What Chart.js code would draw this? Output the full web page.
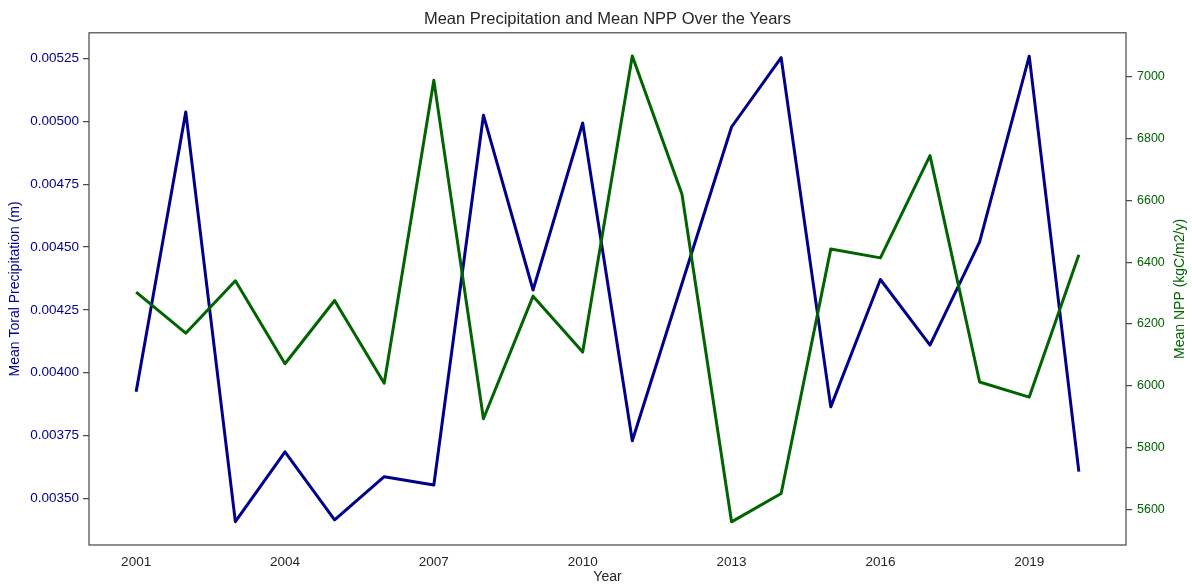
<!DOCTYPE html>
<html>
<head>
<meta charset="utf-8">
<title>Mean Precipitation and Mean NPP Over the Years</title>
<script src="https://cdn.jsdelivr.net/npm/chart.js@4.4.1/dist/chart.umd.min.js"></script>
<style>
  html, body { margin: 0; padding: 0; background: #ffffff; }
  #wrap { width: 1192px; height: 586px; }
</style>
</head>
<body>
<div id="wrap"><canvas id="chart" width="1192" height="586"></canvas></div>
<script>
// Yearly means
const years = [2001, 2002, 2003, 2004, 2005, 2006, 2007, 2008, 2009, 2010,
               2011, 2012, 2013, 2014, 2015, 2016, 2017, 2018, 2019, 2020];

// Mean total precipitation (m)
const precipitation = [0.003924, 0.005038, 0.003407, 0.003685, 0.003414, 0.003586, 0.003553,
                       0.005025, 0.004329, 0.004994, 0.003729, 0.004354, 0.004978, 0.005254,
                       0.003864, 0.004371, 0.004110, 0.004521, 0.005260, 0.003606];

// Mean NPP (kgC/m2/y)
const npp = [6303, 6170, 6340, 6071, 6276, 6008, 6989, 5893, 6290, 6109,
             7068, 6621, 5559, 5651, 6443, 6414, 6745, 6012, 5963, 6424];

// Tick labels
const yearTicks = [2001, 2004, 2007, 2010, 2013, 2016, 2019];
const precipTicks = [0.00350, 0.00375, 0.00400, 0.00425, 0.00450, 0.00475, 0.00500, 0.00525];
const nppTicks = [5600, 5800, 6000, 6200, 6400, 6600, 6800, 7000];

const FONT = '"Liberation Sans", Arial, Helvetica, sans-serif';
const PRECIP_COLOR = '#00008b';
const NPP_COLOR = '#006400';
const FRAME_COLOR = '#4d4d4d';
const TEXT_COLOR = '#262626';

// Frame around the plot area plus the right-hand axis title (read bottom to top)
const frameAndRightTitle = {
  id: 'frameAndRightTitle',
  afterDatasetsDraw(chart) {
    const { ctx, chartArea } = chart;
    ctx.save();
    ctx.strokeStyle = FRAME_COLOR;
    ctx.lineWidth = 1.25;
    ctx.strokeRect(chartArea.left, chartArea.top,
                   chartArea.right - chartArea.left, chartArea.bottom - chartArea.top);
    ctx.restore();
  },
  afterDraw(chart) {
    const { ctx, chartArea } = chart;
    const scale = chart.scales.y1;
    ctx.save();
    ctx.translate(scale.right - 12, (chartArea.top + chartArea.bottom) / 2);
    ctx.rotate(-Math.PI / 2);
    ctx.font = '14px ' + FONT;
    ctx.fillStyle = NPP_COLOR;
    ctx.textAlign = 'center';
    ctx.textBaseline = 'middle';
    ctx.fillText('Mean NPP (kgC/m2/y)', 0, 0);
    ctx.restore();
  }
};

new Chart(document.getElementById('chart'), {
  type: 'line',
  data: {
    datasets: [
      {
        label: 'Mean Toral Precipitation (m)',
        data: years.map((yr, i) => ({ x: yr, y: precipitation[i] })),
        borderColor: PRECIP_COLOR,
        borderWidth: 3,
        pointRadius: 0,
        tension: 0,
        borderJoinStyle: 'round',
        yAxisID: 'y',
        order: 1
      },
      {
        label: 'Mean NPP (kgC/m2/y)',
        data: years.map((yr, i) => ({ x: yr, y: npp[i] })),
        borderColor: NPP_COLOR,
        borderWidth: 3,
        pointRadius: 0,
        tension: 0,
        borderJoinStyle: 'round',
        yAxisID: 'y1',
        order: 0
      }
    ]
  },
  options: {
    responsive: false,
    animation: false,
    devicePixelRatio: 1,
    layout: { padding: 0 },
    plugins: {
      legend: { display: false },
      tooltip: { enabled: false },
      title: {
        display: true,
        fullSize: false,
        text: 'Mean Precipitation and Mean NPP Over the Years',
        color: TEXT_COLOR,
        font: { family: FONT, size: 16.5, weight: 'normal' },
        padding: { top: 10, bottom: 3 }
      }
    },
    scales: {
      x: {
        type: 'linear',
        min: 2000.05,
        max: 2020.95,
        afterBuildTicks: (s) => { s.ticks = yearTicks.map(v => ({ value: v })); },
        afterFit: (s) => { s.height = 41; },
        grid: { display: false, drawTicks: false },
        border: { display: false },
        ticks: {
          color: TEXT_COLOR,
          font: { family: FONT, size: 13.5 },
          padding: 9,
          maxRotation: 0,
          callback: (v) => String(v)
        },
        title: {
          display: true,
          text: 'Year',
          color: TEXT_COLOR,
          font: { family: FONT, size: 14 },
          padding: 0
        }
      },
      y: {
        type: 'linear',
        position: 'left',
        min: 0.003314,
        max: 0.005353,
        afterBuildTicks: (s) => { s.ticks = precipTicks.map(v => ({ value: v })); },
        afterFit: (s) => { s.width = 89; },
        grid: { drawOnChartArea: false, drawTicks: true, tickLength: 6, color: FRAME_COLOR, lineWidth: 1.25 },
        border: { display: false },
        ticks: {
          color: PRECIP_COLOR,
          font: { family: FONT, size: 13.5 },
          padding: 4,
          callback: (v) => v.toFixed(5)
        },
        title: {
          display: true,
          text: 'Mean Toral Precipitation (m)',
          color: PRECIP_COLOR,
          font: { family: FONT, size: 14 },
          padding: { top: 6.5, bottom: 0 }
        }
      },
      y1: {
        type: 'linear',
        position: 'right',
        min: 5484,
        max: 7143,
        afterBuildTicks: (s) => { s.ticks = nppTicks.map(v => ({ value: v })); },
        afterFit: (s) => { s.width = 66; },
        grid: { drawOnChartArea: false, drawTicks: true, tickLength: 6, color: FRAME_COLOR, lineWidth: 1.25 },
        border: { display: false },
        ticks: {
          color: NPP_COLOR,
          font: { family: FONT, size: 12.5 },
          padding: 5,
          callback: (v) => String(v)
        }
      }
    }
  },
  plugins: [frameAndRightTitle]
});
</script>
</body>
</html>
